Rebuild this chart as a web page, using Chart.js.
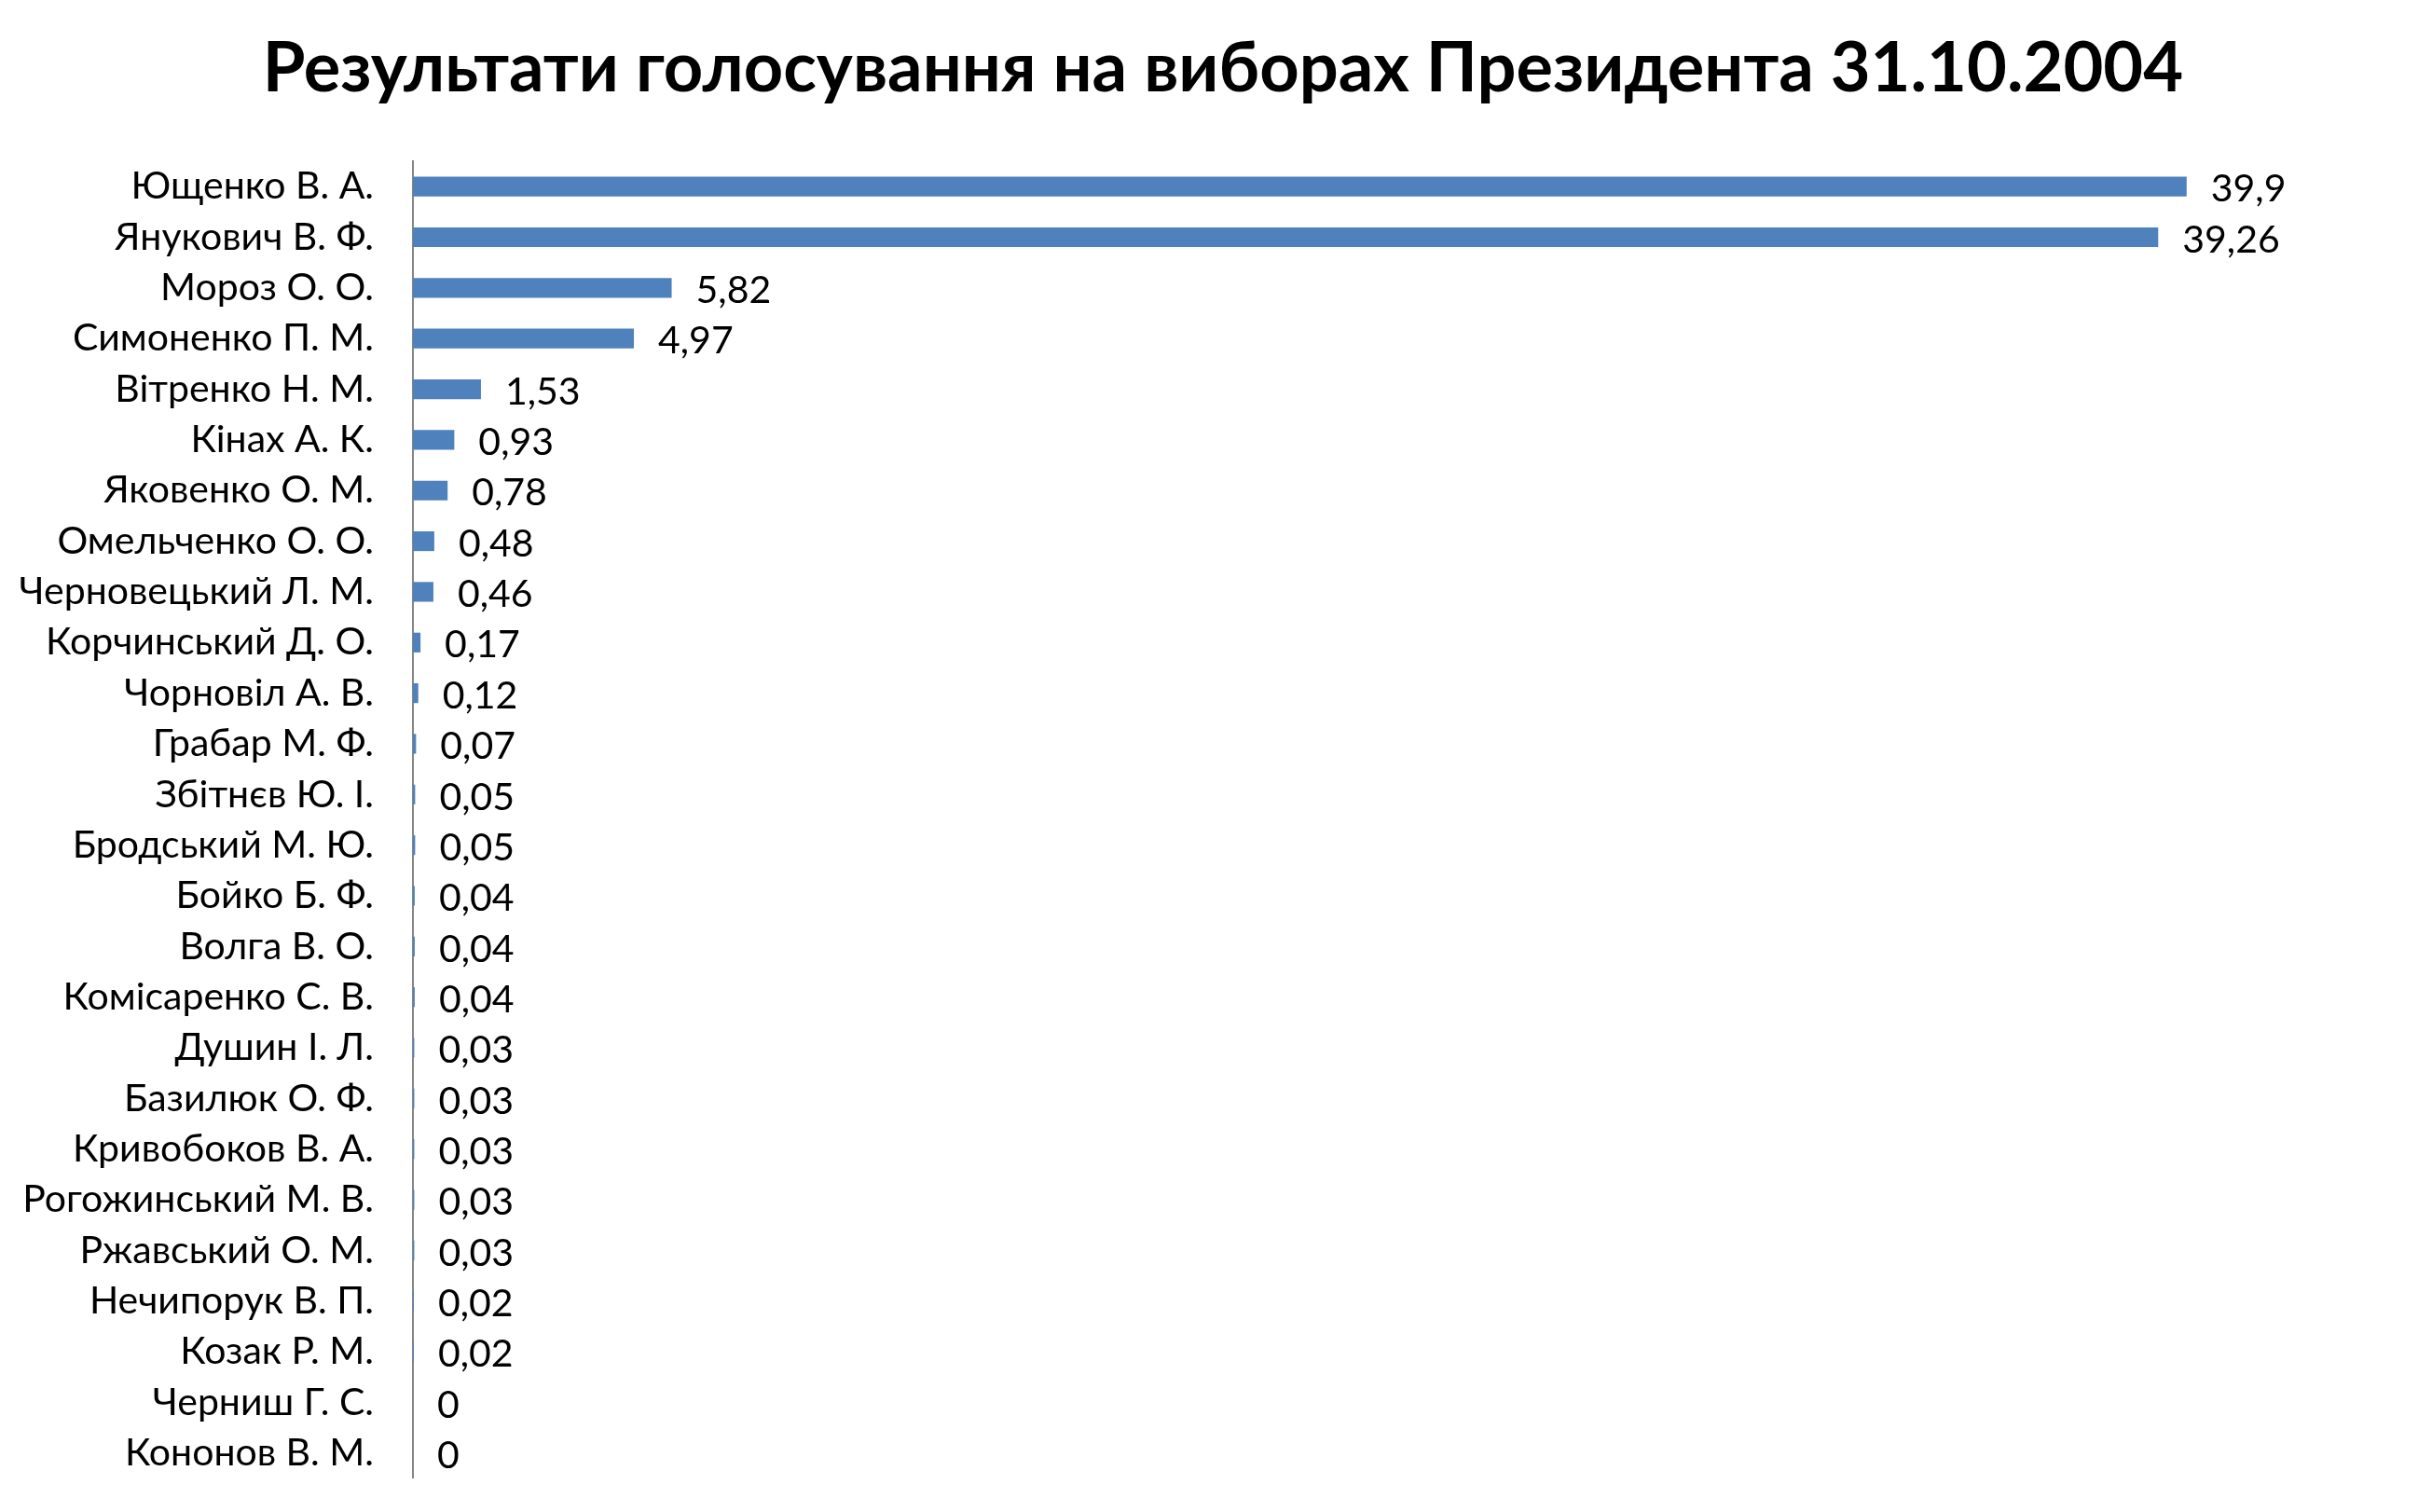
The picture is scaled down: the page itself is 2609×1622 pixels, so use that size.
<!DOCTYPE html>
<html>
<head>
<meta charset="utf-8">
<script src="https://cdn.jsdelivr.net/npm/chart.js@4"></script>
<style>
  html, body { margin: 0; padding: 0; background: #fff; overflow: hidden; }
  canvas { display: block; }
</style>
</head>
<body>
<canvas id="chart" width="2609" height="1622"></canvas>
<script>
const titleText = 'Результати голосування на виборах Президента 31.10.2004';

const candidates = [
  'Ющенко В. А.', 'Янукович В. Ф.', 'Мороз О. О.', 'Симоненко П. М.', 'Вітренко Н. М.',
  'Кінах А. К.', 'Яковенко О. М.', 'Омельченко О. О.', 'Черновецький Л. М.', 'Корчинський Д. О.',
  'Чорновіл А. В.', 'Грабар М. Ф.', 'Збітнєв Ю. І.', 'Бродський М. Ю.', 'Бойко Б. Ф.',
  'Волга В. О.', 'Комісаренко С. В.', 'Душин І. Л.', 'Базилюк О. Ф.', 'Кривобоков В. А.',
  'Рогожинський М. В.', 'Ржавський О. М.', 'Нечипорук В. П.', 'Козак Р. М.', 'Черниш Г. С.',
  'Кононов В. М.'
];

const votePercent = [
  39.9, 39.26, 5.82, 4.97, 1.53,
  0.93, 0.78, 0.48, 0.46, 0.17,
  0.12, 0.07, 0.05, 0.05, 0.04,
  0.04, 0.04, 0.03, 0.03, 0.03,
  0.03, 0.03, 0.02, 0.02, 0,
  0
];

const FONT = 'Lato, "Open Sans", sans-serif';

// title sits a bit right of the canvas centre, so draw it ourselves
const chartTitle = {
  id: 'chartTitle',
  afterDraw(chart) {
    const ctx = chart.ctx;
    ctx.save();
    ctx.font = 'bold 74px ' + FONT;
    ctx.fillStyle = '#000';
    ctx.textAlign = 'center';
    ctx.textBaseline = 'alphabetic';
    ctx.fillText(titleText, 1312, 98);
    ctx.restore();
  }
};

// draws "39,9" style labels to the right of each bar
const valueLabels = {
  id: 'valueLabels',
  afterDatasetsDraw(chart) {
    const ctx = chart.ctx;
    const meta = chart.getDatasetMeta(0);
    ctx.save();
    ctx.font = '41px ' + FONT;
    ctx.fillStyle = '#000';
    ctx.textAlign = 'left';
    ctx.textBaseline = 'middle';
    meta.data.forEach((bar, i) => {
      const txt = String(votePercent[i]).replace('.', ',');
      ctx.fillText(txt, bar.x + 26, bar.y + 3);
    });
    ctx.restore();
  }
};

const ctx = document.getElementById('chart').getContext('2d');
new Chart(ctx, {
  type: 'bar',
  data: {
    labels: candidates,
    datasets: [{
      data: votePercent,
      backgroundColor: '#4F81BD',
      borderWidth: 0,
      barPercentage: 0.39,
      categoryPercentage: 1.0
    }]
  },
  options: {
    indexAxis: 'y',
    responsive: false,
    devicePixelRatio: 1,
    animation: false,
    layout: { padding: { left: 0, right: 20, top: 173, bottom: 24 } },
    scales: {
      x: {
        display: false,
        min: 0,
        max: 45
      },
      y: {
        grid: { display: false },
        border: { display: true, color: '#868686', width: 2 },
        ticks: {
          color: '#000',
          padding: 34,
          autoSkip: false,
          font: { family: FONT, size: 41, lineHeight: 0.1 }
        },
        afterFit(scale) { scale.width = 443; }
      }
    },
    plugins: {
      legend: { display: false },
      tooltip: { enabled: false },
      title: { display: false }
    }
  },
  plugins: [valueLabels, chartTitle]
});
</script>
</body>
</html>
